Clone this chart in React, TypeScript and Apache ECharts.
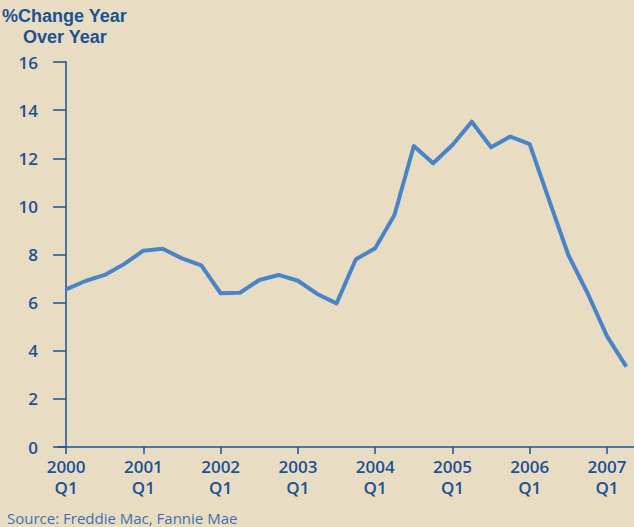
import React, { useEffect, useRef } from "react";
import * as echarts from "echarts";

const quarters: string[] = [
  "2000 Q1","2000 Q2","2000 Q3","2000 Q4",
  "2001 Q1","2001 Q2","2001 Q3","2001 Q4",
  "2002 Q1","2002 Q2","2002 Q3","2002 Q4",
  "2003 Q1","2003 Q2","2003 Q3","2003 Q4",
  "2004 Q1","2004 Q2","2004 Q3","2004 Q4",
  "2005 Q1","2005 Q2","2005 Q3","2005 Q4",
  "2006 Q1","2006 Q2","2006 Q3","2006 Q4",
  "2007 Q1","2007 Q2",
];
const changeValues: number[] = [
  6.55, 6.9, 7.15, 7.6,
  8.16, 8.24, 7.84, 7.55,
  6.39, 6.41, 6.94, 7.15,
  6.91, 6.36, 5.97, 7.8,
  8.26, 9.64, 12.51, 11.79,
  12.55, 13.52, 12.46, 12.9,
  12.59, 10.27, 7.98, 6.39,
  4.61, 3.34,
];
const yearTickIndices: number[] = [0, 4, 8, 12, 16, 20, 24, 28];
const yTicks = { min: 0, max: 16, interval: 2 };

const TEXT = "#1c5194";
const LINE = "#4a84c8";
const BG = "#e8ddc2";

export default function App() {
  const ref = useRef<HTMLDivElement>(null);
  useEffect(() => {
    if (!ref.current) return;
    const chart = echarts.init(ref.current, undefined, { renderer: "svg" });
    chart.setOption({
      animation: false,
      backgroundColor: BG,
      textStyle: { fontFamily: "Open Sans" },
      grid: { left: 58, right: 0, top: 62, bottom: 80 },
      xAxis: {
        type: "value",
        min: -0.42,
        max: 29.4,
        splitLine: { show: false },
        axisLine: { show: true, lineStyle: { color: TEXT, width: 1.5 } },
        axisTick: {
          show: true,
          customValues: yearTickIndices,
          length: 7,
          lineStyle: { color: TEXT, width: 1.5 },
        },
        axisLabel: {
          customValues: yearTickIndices,
          color: TEXT,
          fontSize: 17,
          fontWeight: 600,
          lineHeight: 21,
          margin: 9,
          formatter: (v: number) => {
            const q = quarters[Math.round(v)] || "";
            const [y, qq] = q.split(" ");
            return y + "\n" + qq;
          },
        },
      },
      yAxis: {
        type: "value",
        min: yTicks.min,
        max: yTicks.max,
        interval: yTicks.interval,
        splitLine: { show: false },
        axisLine: { show: true, lineStyle: { color: TEXT, width: 1.5 } },
        axisTick: { show: true, length: 13, lineStyle: { color: TEXT, width: 1.5 } },
        axisLabel: { color: TEXT, fontSize: 17, fontWeight: 600, margin: 20 },
      },
      graphic: [
        {
          type: "text",
          left: 2,
          top: 7,
          style: { text: "%Change Year", fill: TEXT, font: "bold 18px 'Liberation Sans'" },
        },
        {
          type: "text",
          left: 23,
          top: 28,
          style: { text: "Over Year", fill: TEXT, font: "bold 18px 'Liberation Sans'" },
        },
        {
          type: "text",
          left: 7,
          top: 509,
          style: { text: "Source: Freddie Mac, Fannie Mae", fill: "#3f6fb0", font: "15px 'Open Sans'", lineHeight: 18 },
        },
      ],
      series: [
        {
          type: "line",
          data: changeValues.map((v, i) => [i, v]),
          showSymbol: false,
          lineStyle: { color: LINE, width: 4, join: "round" },
        },
      ],
    });
    return () => chart.dispose();
  }, []);
  return (
    <div
      ref={ref}
      style={{ position: "fixed", left: 0, top: 0, width: 634, height: 527 }}
    />
  );
}
